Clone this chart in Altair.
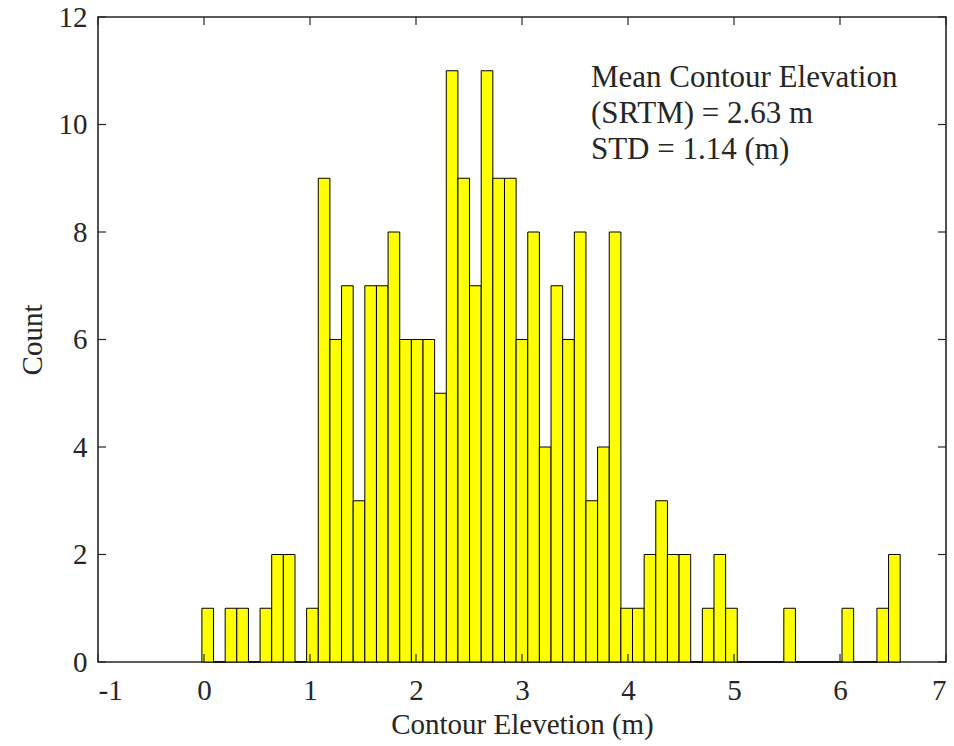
import altair as alt
import pandas as pd

# Histogram counts (60 bins)
COUNTS = [1, 0, 1, 1, 0, 1, 2, 2, 0, 1,
          9, 6, 7, 3, 7, 7, 8, 6, 6, 6,
          5, 11, 9, 7, 11, 9, 9, 6, 8, 4,
          7, 6, 8, 3, 4, 8, 1, 1, 2, 3,
          2, 2, 0, 1, 2, 1, 0, 0, 0, 0,
          1, 0, 0, 0, 0, 1, 0, 0, 1, 2]
BIN_START = -0.02
BIN_WIDTH = 0.1098
X_TICKS = [-1, 0, 1, 2, 3, 4, 5, 6, 7]
Y_TICKS = [0, 2, 4, 6, 8, 10, 12]
ANNOT = ["Mean Contour Elevation", "(SRTM) = 2.63 m", "STD = 1.14 (m)"]
ANNOT_X = 3.65
ANNOT_Y = 11.14

FONT = "Liberation Serif"
INK = "#262626"
W, H = 848, 645
TICK = 8

bins = pd.DataFrame({
    "start": [BIN_START + i * BIN_WIDTH for i in range(len(COUNTS))],
    "count": COUNTS,
})
bins["end"] = bins["start"] + BIN_WIDTH

xscale = alt.Scale(domain=[-1, 7], nice=False, zero=False)
yscale = alt.Scale(domain=[0, 12], nice=False, zero=False)

bars = alt.Chart(bins).mark_rect(
    fill="#FFFF00", stroke="#000000", strokeWidth=1
).encode(
    x=alt.X("start:Q", scale=xscale, axis=alt.Axis(
        values=X_TICKS, title="Contour Elevetion (m)",
        labelExpr="datum.value + ''",
        grid=False, ticks=False, domain=False,
        labelFont=FONT, labelFontSize=29, labelColor=INK, labelPadding=14,
        titleFont=FONT, titleFontSize=29, titleColor=INK, titleFontWeight="normal",
        titlePadding=5)),
    x2="end:Q",
    y=alt.Y("count:Q", scale=yscale, axis=alt.Axis(
        values=Y_TICKS, title="Count", format="d",
        grid=False, ticks=False, domain=False,
        labelFont=FONT, labelFontSize=29, labelColor=INK, labelPadding=11,
        titleFont=FONT, titleFontSize=29, titleColor=INK, titleFontWeight="normal",
        titlePadding=11)),
    y2=alt.datum(0),
)

xt = pd.DataFrame({"v": X_TICKS})
yt = pd.DataFrame({"v": Y_TICKS})

bottom_ticks = alt.Chart(xt).mark_rule(color=INK, strokeWidth=1.2).encode(
    x=alt.X("v:Q", scale=xscale), y=alt.value(H), y2=alt.value(H - TICK))
top_ticks = alt.Chart(xt).mark_rule(color=INK, strokeWidth=1.2).encode(
    x=alt.X("v:Q", scale=xscale), y=alt.value(0), y2=alt.value(TICK))
left_ticks = alt.Chart(yt).mark_rule(color=INK, strokeWidth=1.2).encode(
    y=alt.Y("v:Q", scale=yscale), x=alt.value(0), x2=alt.value(TICK))
right_ticks = alt.Chart(yt).mark_rule(color=INK, strokeWidth=1.2).encode(
    y=alt.Y("v:Q", scale=yscale), x=alt.value(W), x2=alt.value(W - TICK))

annot = alt.Chart(pd.DataFrame({"a": [0]})).mark_text(
    align="left", baseline="top", font=FONT, fontSize=31, color=INK,
    lineHeight=36,
).encode(
    x=alt.datum(ANNOT_X), y=alt.datum(ANNOT_Y), text=alt.value(ANNOT))

chart = alt.layer(
    bars, bottom_ticks, top_ticks, left_ticks, right_ticks, annot
).properties(
    width=W, height=H,
    autosize=alt.AutoSizeParams(type="none"),
    padding={"left": 98, "top": 17, "right": 8, "bottom": 84},
    background="white",
).configure_view(
    stroke=INK, strokeWidth=1.6
)

chart.save("out.html", embed_options={"renderer": "svg", "actions": False})
